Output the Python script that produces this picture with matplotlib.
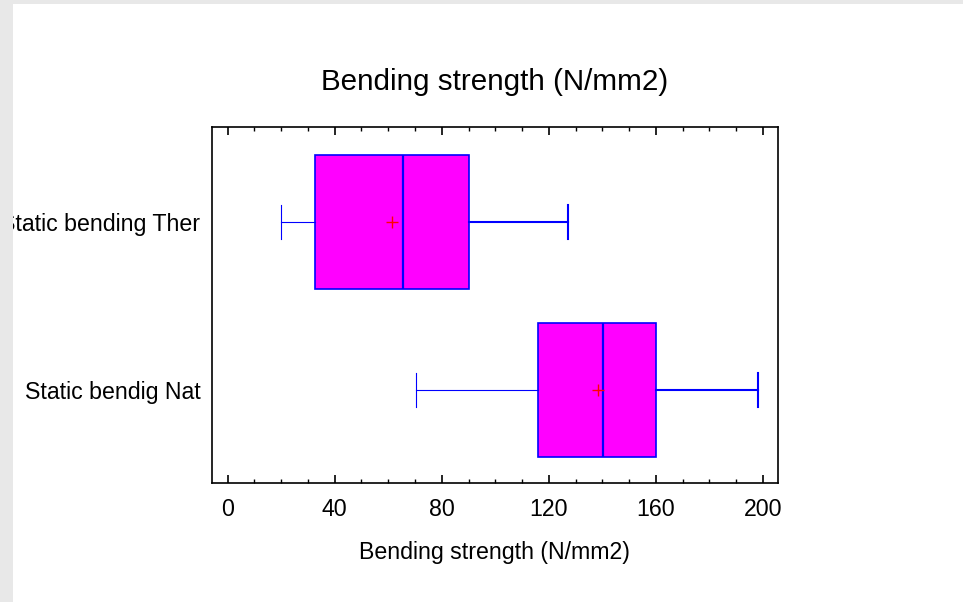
import matplotlib
matplotlib.use("Agg")
import matplotlib.pyplot as plt
from matplotlib.patches import Rectangle

plt.rcParams['font.family'] = ['Liberation Sans', 'DejaVu Sans']

categories = ["Static bendig Nat", "Static bending Ther"]
whisker_low = [70.5, 20.0]
q1 = [116.0, 32.6]
median = [140.2, 65.6]
q3 = [160.1, 90.3]
whisker_high = [198.1, 127.2]
means = [138.3, 61.4]
xticks = [0, 40, 80, 120, 160, 200]

W, H = 963, 602
fig = plt.figure(figsize=(W / 100, H / 100), dpi=100)
fig.patch.set_facecolor('white')

ax = fig.add_axes([211.5 / W, 1 - 483 / H, (778 - 211.5) / W, (483 - 127) / H])

stats = []
for i, c in enumerate(categories):
    stats.append(dict(label=c, whislo=whisker_low[i], q1=q1[i], med=median[i],
                      q3=q3[i], whishi=whisker_high[i], mean=means[i], fliers=[]))

bp = ax.bxp(stats, positions=[0, 1], widths=0.8, vert=False, patch_artist=True,
            showmeans=True, showfliers=False, capwidths=0.2,
            boxprops=dict(facecolor='#ff00ff', edgecolor='#0000ff', linewidth=1.2),
            medianprops=dict(color='#0000ff', linewidth=1.6),
            whiskerprops=dict(color='#0000ff', linewidth=0.8),
            capprops=dict(color='#0000ff', linewidth=0.8),
            meanprops=dict(marker='+', markeredgecolor='#ff0000', markersize=8,
                           markeredgewidth=1.0))
# upper whiskers and caps drawn heavier
for i in range(len(categories)):
    bp['whiskers'][2 * i + 1].set_linewidth(1.5)
    bp['caps'][2 * i + 1].set_linewidth(1.5)

ax.set_xlim(-6.0, 205.6)
ax.set_ylim(-0.554, 1.565)
ax.set_xticks(xticks)
ax.set_xticks(range(0, 201, 10), minor=True)
ax.set_yticks([0, 1])
ax.set_yticklabels(categories)
ax.tick_params(axis='x', which='major', direction='in', length=6, width=1.2,
               top=True, labelsize=16.7, pad=11)
ax.tick_params(axis='x', which='minor', direction='in', length=3, width=1.0, top=True)
ax.tick_params(axis='y', which='major', length=0, labelsize=16.7, pad=8)
for s in ax.spines.values():
    s.set_linewidth(1.2)

ax.set_title("Bending strength (N/mm2)", fontsize=21.3, pad=27)
ax.set_xlabel("Bending strength (N/mm2)", fontsize=16.7, labelpad=14)

# gray frame on the left and top
fig.add_artist(Rectangle((0, 0), 13 / W, 1, transform=fig.transFigure,
                         facecolor='#e8e8e8', edgecolor='none', zorder=10))
fig.add_artist(Rectangle((0, 1 - 4 / H), 1, 4 / H, transform=fig.transFigure,
                         facecolor='#e8e8e8', edgecolor='none', zorder=10))

fig.savefig("out.png", dpi=100)
